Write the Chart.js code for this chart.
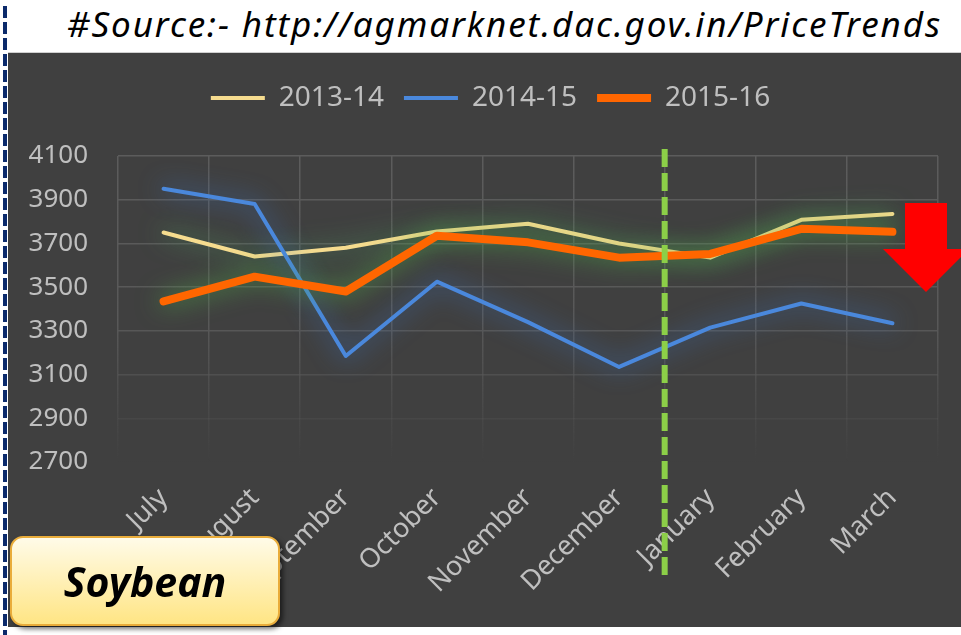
<!DOCTYPE html>
<html>
<head>
<meta charset="utf-8">
<script src="https://cdn.jsdelivr.net/npm/chart.js@4.4.1/dist/chart.umd.min.js"></script>
<style>
    body { margin: 0; background: #ffffff; width: 961px; height: 635px; overflow: hidden; position: relative; font-family: 'Noto Sans', sans-serif; }
    #leftBorder { position: absolute; left: 3px; top: 6px; width: 4px; height: 629px;
        background: repeating-linear-gradient(to bottom, #0b2a6b 0 12px, transparent 12px 16px); }
    #source { position: absolute; left: 67px; top: 6px; font-size: 35px; letter-spacing: 1.9px; font-style: italic; line-height: 1; color: #000; white-space: nowrap; }
    #plot { position: absolute; left: 8px; top: 52px; width: 953px; height: 575px; background: #404040; border-top: 1px solid #d0d0d0; box-sizing: border-box; }
    #crop { position: absolute; left: 10px; top: 536px; width: 270px; height: 90px; box-sizing: border-box;
        border: 2px solid #e9ac3a; border-radius: 13px; background: linear-gradient(to bottom, #fffbe8, #ffe584);
        box-shadow: 3px 3px 5px rgba(0,0,0,0.55); display: flex; align-items: center; justify-content: center;
        font-size: 41px; font-weight: bold; font-style: italic; color: #000; }
</style>
</head>
<body>
<div id="leftBorder"></div>
<div id="source">#Source:- http://agmarknet.dac.gov.in/PriceTrends</div>
<div id="plot"><canvas id="priceChart"></canvas></div>
<div id="crop">Soybean</div>
<script>
// monthly prices (Rs/quintal)
const months = ['July', 'August', 'September', 'October', 'November', 'December', 'January', 'February', 'March'];
const yearLabels = ['2013-14', '2014-15', '2015-16'];
const prices1314 = [3750, 3640, 3680, 3755, 3790, 3700, 3635, 3808, 3835];
const prices1415 = [3950, 3880, 3185, 3525, 3340, 3135, 3315, 3425, 3335];
const prices1516 = [3435, 3548, 3480, 3735, 3705, 3635, 3652, 3767, 3753];
const yTicks = [2700, 2900, 3100, 3300, 3500, 3700, 3900, 4100];

const labelColor = '#bfbfbf';

let gridGradient = null;
function gridColor(context) {
    const chart = context.chart;
    const area = chart.chartArea;
    if (!area) return '#5a5a5a';
    if (!gridGradient) {
        gridGradient = chart.ctx.createLinearGradient(0, area.top, 0, area.bottom);
        gridGradient.addColorStop(0, '#5c5c5c');
        gridGradient.addColorStop(0.55, '#585858');
        gridGradient.addColorStop(1, 'rgba(88,88,88,0)');
    }
    return gridGradient;
}

// soft glow behind each line
const glowPlugin = {
    id: 'glow',
    beforeDatasetDraw(chart, args) {
        const ds = chart.data.datasets[args.index];
        chart.ctx.save();
        chart.ctx.shadowColor = ds.glowColor;
        chart.ctx.shadowBlur = 24;
    },
    afterDatasetDraw(chart) {
        chart.ctx.restore();
    }
};

// nudge the legend a little to the right, like the original
const legendShift = {
    id: 'legendShift',
    afterLayout(chart) {
        if (chart.legend) {
            chart.legend.left += 9;
            chart.legend.right += 9;
        }
    }
};

// dashed green divider between December and January, plus red arrow
const markerPlugin = {
    id: 'markers',
    afterDatasetsDraw(chart) {
        const ctx = chart.ctx;
        const x = chart.scales.x;
        const area = chart.chartArea;
        const divX = (x.getPixelForValue(5) + x.getPixelForValue(6)) / 2;
        ctx.save();
        ctx.strokeStyle = '#8ccf48';
        ctx.lineWidth = 6;
        ctx.setLineDash([18, 6]);
        ctx.beginPath();
        ctx.moveTo(divX, area.top - 7);
        ctx.lineTo(divX, area.bottom + 118);
        ctx.stroke();
        ctx.restore();

        // red down arrow at the right edge
        const cx = area.right - 12;
        const top = area.top + 47;
        ctx.save();
        ctx.fillStyle = '#ff0000';
        ctx.beginPath();
        ctx.moveTo(cx - 21, top);
        ctx.lineTo(cx + 21, top);
        ctx.lineTo(cx + 21, top + 46);
        ctx.lineTo(cx + 43, top + 46);
        ctx.lineTo(cx, top + 89);
        ctx.lineTo(cx - 43, top + 46);
        ctx.lineTo(cx - 21, top + 46);
        ctx.closePath();
        ctx.fill();
        ctx.restore();
    }
};

const ctx = document.getElementById('priceChart').getContext('2d');
new Chart(ctx, {
    type: 'line',
    data: {
        labels: months,
        datasets: [
            {
                label: yearLabels[0],
                data: prices1314,
                borderColor: '#f6dc8f',
                backgroundColor: '#f6dc8f',
                borderWidth: 4,
                glowColor: 'rgba(80,175,100,0.9)',
                order: 2
            },
            {
                label: yearLabels[1],
                data: prices1415,
                borderColor: '#4a88dc',
                backgroundColor: '#4a88dc',
                borderWidth: 4,
                glowColor: 'rgba(60,125,220,0.9)',
                order: 1
            },
            {
                label: yearLabels[2],
                data: prices1516,
                borderColor: '#ff6600',
                backgroundColor: '#ff6600',
                borderWidth: 8,
                glowColor: 'rgba(80,170,70,0.9)',
                order: 0
            }
        ]
    },
    options: {
        responsive: true,
        maintainAspectRatio: false,
        animation: false,
        elements: {
            line: { tension: 0, borderCapStyle: 'round', borderJoinStyle: 'round' },
            point: { radius: 0, hoverRadius: 0 }
        },
        layout: { padding: { top: 11, left: 17, right: 23, bottom: 0 } },
        scales: {
            x: {
                offset: true,
                grid: { offset: true, color: gridColor, lineWidth: 1.5, drawTicks: false },
                border: { display: false },
                ticks: {
                    color: labelColor,
                    font: { family: 'Noto Sans', size: 27 },
                    minRotation: 45,
                    maxRotation: 45,
                    autoSkip: false,
                    padding: 20
                },
                afterFit(scale) { scale.height = 165; }
            },
            y: {
                min: yTicks[0],
                max: yTicks[yTicks.length - 1],
                afterBuildTicks(scale) { scale.ticks = yTicks.map(v => ({ value: v })); },
                grid: { color: gridColor, lineWidth: 1.5, drawTicks: false },
                border: { display: false },
                ticks: {
                    color: labelColor,
                    font: { family: 'Noto Sans', size: 26 },
                    padding: 30,
                    callback: value => String(value)
                },
                afterFit(scale) { scale.width = 93; }
            }
        },
        plugins: {
            legend: {
                position: 'top',
                labels: {
                    color: labelColor,
                    font: { family: 'Noto Sans', size: 28 },
                    usePointStyle: true,
                    pointStyle: 'line',
                    pointStyleWidth: 54,
                    padding: 20,
                    sort: (a, b) => a.datasetIndex - b.datasetIndex
                }
            },
            // empty title used as a spacer between legend and plot area
            title: {
                display: true,
                text: '',
                weight: 500,
                padding: 0,
                font: { size: 34, lineHeight: 1 }
            },
            tooltip: { enabled: false }
        }
    },
    plugins: [glowPlugin, legendShift, markerPlugin]
});
</script>
</body>
</html>
